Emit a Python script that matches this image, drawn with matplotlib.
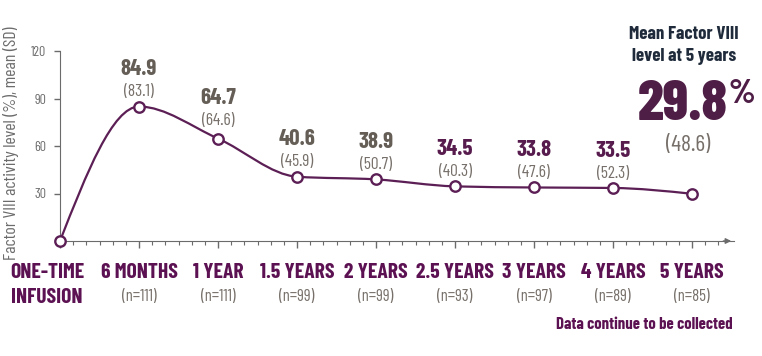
import numpy as np
import matplotlib
matplotlib.use("Agg")
import matplotlib.pyplot as plt
import matplotlib.transforms as mtransforms
from matplotlib.path import Path
from matplotlib.patches import PathPatch

plt.rcParams['font.family'] = ['Barlow Condensed', 'DejaVu Sans']

# data
categories = ['ONE-TIME\nINFUSION', '6 MONTHS', '1 YEAR', '1.5 YEARS', '2 YEARS',
              '2.5 YEARS', '3 YEARS', '4 YEARS', '5 YEARS']
n_labels = ['', '(n=111)', '(n=111)', '(n=99)', '(n=99)', '(n=93)', '(n=97)', '(n=89)', '(n=85)']
means = [0, 84.9, 64.7, 40.6, 38.9, 34.5, 33.8, 33.5, 29.8]
sds = [None, 83.1, 64.6, 45.9, 50.7, 40.3, 47.6, 52.3, 48.6]
yticks = [30, 60, 90, 120]

purple = '#5c1252'
val_purple = '#571c4d'
big_purple = '#4f1e46'
line_col = '#5c1f55'
gray = '#655e57'
sd_gray = '#77706a'
axis_gray = '#6b6b6b'
navy = '#1f2b3b'


def monotone_path(x, y):
    # monotone cubic (Steffen) as bezier segments
    x = np.asarray(x, float)
    y = np.asarray(y, float)
    n = len(x)
    h = np.diff(x)
    s = np.diff(y) / h
    t = np.zeros(n)
    for i in range(1, n - 1):
        p = (s[i - 1] * h[i] + s[i] * h[i - 1]) / (h[i - 1] + h[i])
        t[i] = (np.sign(s[i - 1]) + np.sign(s[i])) * min(abs(s[i - 1]), abs(s[i]), 0.5 * abs(p))
    t[0] = (3 * s[0] - t[1]) / 2
    t[-1] = (3 * s[-1] - t[-2]) / 2
    verts = [(x[0], y[0])]
    codes = [Path.MOVETO]
    for i in range(n - 1):
        dx = h[i] / 3
        verts += [(x[i] + dx, y[i] + dx * t[i]), (x[i + 1] - dx, y[i + 1] - dx * t[i + 1]), (x[i + 1], y[i + 1])]
        codes += [Path.CURVE4] * 3
    return Path(verts, codes)


W, H = 762, 356
fig = plt.figure(figsize=(W / 100, H / 100), dpi=100)
ax = fig.add_axes([60 / W, 1 - 241 / H, 674 / W, 190 / H])
xs = np.arange(len(means))

ax.add_patch(PathPatch(monotone_path(xs, means), facecolor='none', edgecolor=line_col, lw=1.6, zorder=2))
ax.plot(xs, means, 'o', ms=7.5, mfc='white', mec=line_col, mew=1.7, zorder=3, clip_on=False)

ax.set_xlim(0, 8.53)
ax.set_ylim(0, 120)
ax.set_yticks(yticks)
ax.set_yticklabels([str(v) for v in yticks], color=axis_gray, fontsize=10)
ax.set_xticks(xs)
ax.set_xticks(np.arange(0, 8.5, 1 / 6), minor=True)
ax.set_xticklabels([])
ax.tick_params(axis='x', which='major', length=5, color=axis_gray, width=1)
ax.tick_params(axis='x', which='minor', length=3, color=axis_gray, width=0.8)
ax.tick_params(axis='y', length=4, color=axis_gray, width=1, pad=6)
for sp in ['top', 'right']:
    ax.spines[sp].set_visible(False)
ax.spines['left'].set_color(axis_gray)
ax.spines['bottom'].set_color(axis_gray)
ax.annotate('', xy=(1.0, 0), xytext=(0.98, 0), xycoords='axes fraction',
            arrowprops=dict(arrowstyle='-|>', color=axis_gray, lw=1, mutation_scale=8))

ax.set_ylabel('Factor VIII activity level (%), mean (SD)', color=axis_gray, fontsize=12.8)
ax.yaxis.set_label_coords(-0.061, 0.516)

# value labels above the points
for i in range(1, 8):
    col = val_purple if i >= 5 else gray
    up = 25 if i == 2 else 22.5
    ax.annotate(f'{means[i]}', (xs[i], means[i]), xytext=(0, up),
                textcoords='offset points', ha='center', va='baseline',
                fontsize=16.5, fontweight='bold', color=col)
    ax.annotate(f'({sds[i]})', (xs[i], means[i]), xytext=(0, up - 15),
                textcoords='offset points', ha='center', va='baseline',
                fontsize=12.5, color=sd_gray)

# 5 year callout
fig.text(684 / W, 1 - 39 / H, 'Mean Factor VIII', ha='center', va='baseline',
         fontsize=13.5, fontweight='bold', color=navy)
fig.text(684 / W, 1 - 61 / H, 'level at 5 years', ha='center', va='baseline',
         fontsize=13.5, fontweight='bold', color=navy)
fig.text(728 / W, 1 - 120 / H, f'{means[8]}', ha='right', va='baseline',
         fontsize=41, fontweight='heavy', color=big_purple)
fig.text(729 / W, 1 - 103 / H, '%', ha='left', va='baseline',
         fontsize=25, fontweight='bold', color=big_purple)
fig.text(688 / W, 1 - 151 / H, f'({sds[8]})', ha='center', va='baseline',
         fontsize=17, color=sd_gray)

# category labels under the axis
trans = mtransforms.blended_transform_factory(ax.transData, fig.transFigure)
for i, c in enumerate(categories):
    if i == 0:
        first, second = c.split('\n')
        fig.text(47 / W, 1 - 278 / H, first, ha='center', va='baseline', fontsize=15.5,
                 fontweight='bold', color=purple)
        fig.text(47 / W, 1 - 303 / H, second, ha='center', va='baseline', fontsize=15.5,
                 fontweight='bold', color=purple)
    else:
        ax.text(xs[i], 1 - 278 / H, c, transform=trans, ha='center', va='baseline',
                fontsize=15.5, fontweight='bold', color=purple)
        ax.text(xs[i], 1 - 301 / H, n_labels[i], transform=trans, ha='center', va='baseline',
                fontsize=12, color=sd_gray)

fig.text(733 / W, 1 - 329 / H, 'Data continue to be collected', ha='right', va='baseline',
         fontsize=12, fontweight='bold', color=purple)

fig.savefig('out.png', dpi=100)
